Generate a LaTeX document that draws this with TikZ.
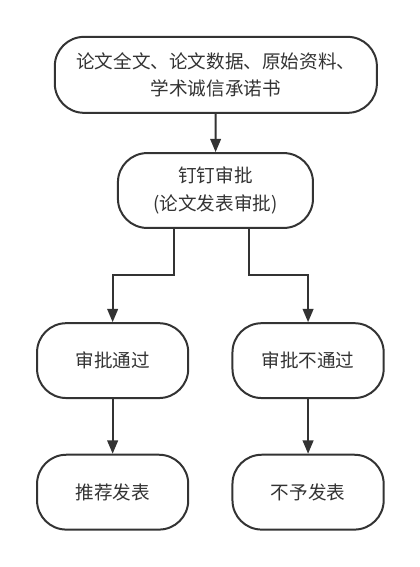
\documentclass[tikz,border=0pt]{standalone}
\usepackage{fontspec}
\setmainfont{Noto Sans CJK SC}
\usetikzlibrary{positioning, arrows.meta}
\usepackage{xcolor}
\definecolor{flline}{HTML}{333333}
\definecolor{fltext}{HTML}{333333}

\begin{document}
\begin{tikzpicture}[font=\fontsize{14}{21}\selectfont,
    box/.style={draw=flline, line width=1.5pt, rounded corners=22pt, fill=white,
                text=fltext, align=center, inner sep=0pt,
                minimum height=1.98cm, minimum width=4cm},
    arr/.style={flline, line width=1.5pt, -{Triangle[length=10pt, width=8pt]}}]
    \useasboundingbox (0,0) rectangle (11.11,-15);
    \node[box, minimum width=8.52cm, minimum height=2.01cm] (src) at (5.71,-1.98)
      {论文全文、论文数据、原始资料、\\学术诚信承诺书};
    \node[box, minimum width=5.16cm] (ding) at (5.70,-5.04)
      {钉钉审批\\(论文发表审批)};
    \node[box] (pass) at (2.98,-9.54) {审批通过};
    \node[box] (fail) at (8.15,-9.54) {审批不通过};
    \node[box] (pub) at (2.98,-13.02) {推荐发表};
    \node[box] (nopub) at (8.15,-13.02) {不予发表};
    \draw[arr] (src) -- (ding);
    \draw[arr] ([xshift=-1.10cm]ding.south) -- ++(0,-1.22) -| (pass.north);
    \draw[arr] ([xshift=0.89cm]ding.south) -- ++(0,-1.22) -| (fail.north);
    \draw[arr] (pass) -- (pub);
    \draw[arr] (fail) -- (nopub);
\end{tikzpicture}
\end{document}
